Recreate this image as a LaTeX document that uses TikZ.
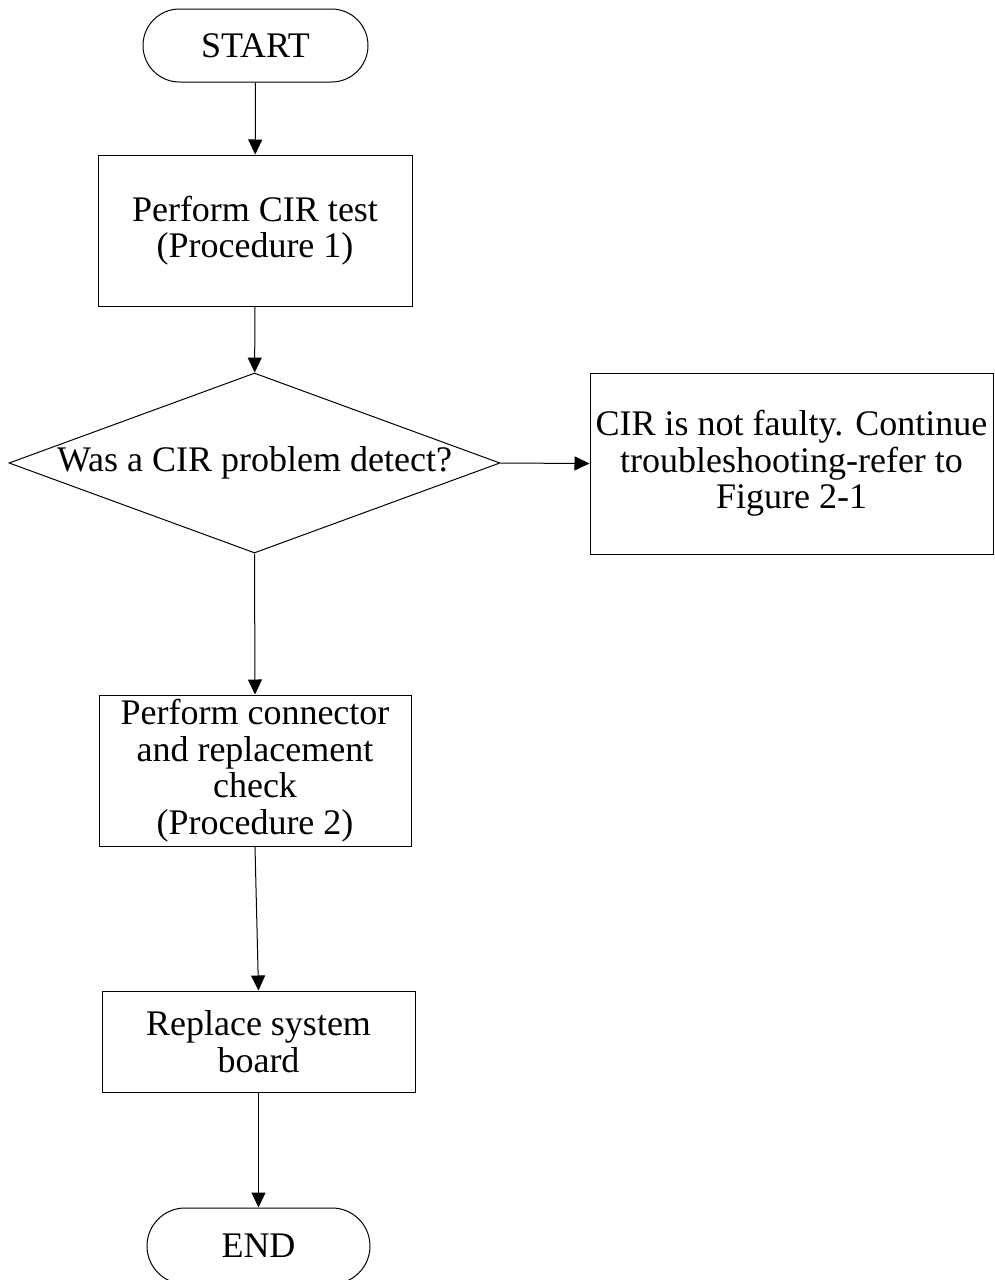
\documentclass[tikz,border=0pt]{standalone}
\usepackage{fontspec}
\setmainfont{Liberation Serif}
\usetikzlibrary{shapes.geometric,shapes.misc,arrows.meta}
\begin{document}
\begin{tikzpicture}[x=1pt,y=-1pt,
  every node/.style={inner sep=0pt, line width=1pt, font=\fontsize{36}{36.5}\selectfont, align=center},
  term/.style={draw, rounded rectangle},
  procbox/.style={draw, rectangle},
  conn/.style={draw, line width=1pt, -{Triangle[length=15pt,width=14pt]}}]
\useasboundingbox (0,0) rectangle (994,1280);
\clip (0,0) rectangle (994,1280);
\node[term, minimum width=225pt, minimum height=73pt] (start) at (255.5,45.5) {START};
\node[procbox, minimum width=314pt, minimum height=151pt] (b1) at (255,230.5) {Perform CIR test\\(Procedure 1)};
\node[draw, diamond, minimum width=491pt, minimum height=180pt] (d) at (254.5,463) {};
\node (dt) at (d.center) {Was a CIR problem detect?};
\node[procbox, minimum width=403pt, minimum height=181pt] (r) at (791.5,463.5) {CIR is not faulty. Continue\\troubleshooting-refer to\\Figure 2-1};
\node[procbox, minimum width=312pt, minimum height=151pt] (b3) at (255,770.5) {Perform connector\\and replacement\\check\\(Procedure 2)};
\node[procbox, minimum width=313pt, minimum height=101pt] (b4) at (258.5,1041.5) {Replace system\\board};
\node[term, minimum width=223pt, minimum height=76pt] (end) at (258.5,1246) {END};
\draw[conn] (start) -- (b1);
\draw[conn] (b1) -- (d);
\draw[conn] (d.east) -- (r.west);
\draw[conn] (d.south) -- (b3.north);
\draw[conn] (b3.south) -- (b4.north);
\draw[conn] (b4.south) -- (end.north);
\end{tikzpicture}
\end{document}
